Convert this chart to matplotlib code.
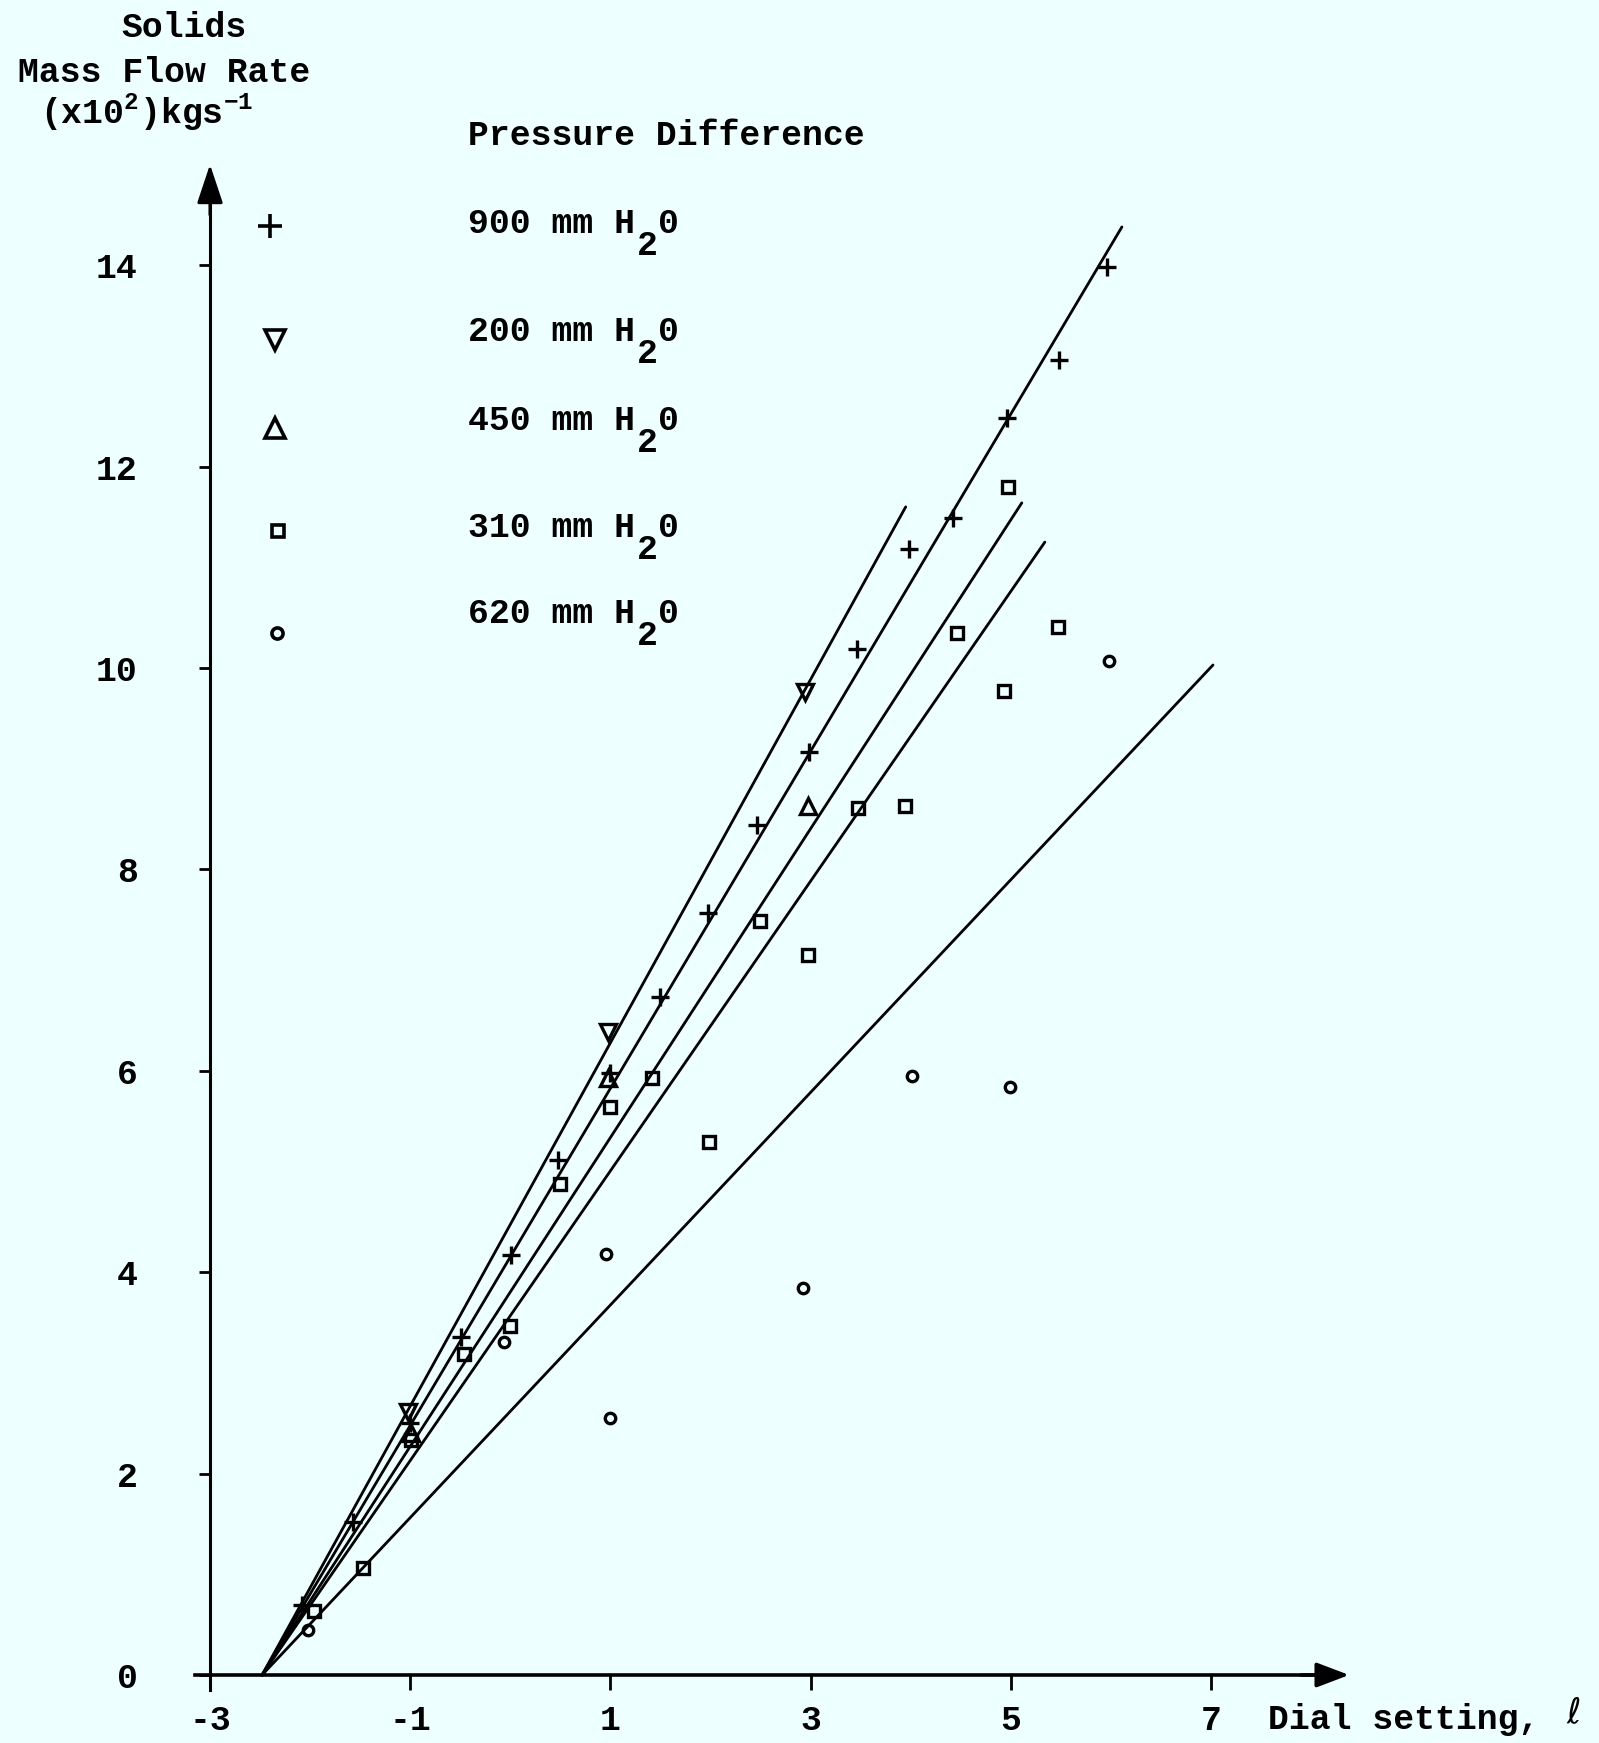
import numpy as np
import matplotlib
matplotlib.use('Agg')
import matplotlib.pyplot as plt

# 900 mm H2O  (+)
plus_x = [-2.08, -1.57, -1.0, -0.49, 0.01, 0.48, 1.0, 1.5, 1.98, 2.46, 2.98, 3.46, 3.98, 4.42, 4.96, 5.48, 5.96]
plus_y = [0.70, 1.52, 2.50, 3.36, 4.17, 5.11, 5.98, 6.73, 7.57, 8.44, 9.17, 10.19, 11.18, 11.49, 12.48, 13.06, 13.98]
# 200 mm H2O  (inverted triangle)
tdown_x = [-1.02, 0.98, 2.94]
tdown_y = [2.61, 6.39, 9.76]
# 450 mm H2O  (triangle)
tup_x = [-0.99, 0.98, 2.97]
tup_y = [2.40, 5.93, 8.63]
# 310 mm H2O  (square)
sq_x = [-1.96, -1.47, -0.99, -0.46, 0.0, 0.5, 1.0, 1.42, 1.99, 2.49, 2.97, 3.47, 3.94, 4.46, 4.93, 4.97, 5.47]
sq_y = [0.64, 1.06, 2.33, 3.19, 3.47, 4.88, 5.64, 5.93, 5.29, 7.49, 7.15, 8.61, 8.63, 10.35, 9.77, 11.80, 10.41]
# 620 mm H2O  (circle)
circ_x = [-2.02, -0.06, 0.96, 1.0, 2.92, 4.01, 4.99, 5.98]
circ_y = [0.45, 3.31, 4.18, 2.55, 3.84, 5.95, 5.84, 10.07]

# fitted straight lines, all starting at (-2.48, 0)
line_x0 = -2.48
line_end_x = [3.95, 6.11, 5.11, 5.34, 7.02]
line_end_y = [11.60, 14.38, 11.64, 11.25, 10.03]

xticks = [-3, -1, 1, 3, 5, 7]
yticks = [0, 2, 4, 6, 8, 10, 12, 14]

legend_labels = ['900', '200', '450', '310', '620']
legend_markers = ['+', 'v', '^', 's', 'o']

bg = '#EEFFFF'
font = ['Liberation Mono', 'DejaVu Sans Mono']
plt.rcParams['font.family'] = font
plt.rcParams['font.weight'] = 'bold'
plt.rcParams['axes.unicode_minus'] = False
plt.rcParams['mathtext.fontset'] = 'custom'
plt.rcParams['mathtext.rm'] = 'Liberation Mono:bold'
fs = 25

W, H = 1599, 1743
x0px, y0px = 210, 1675      # pixel position of (-3, 0)
sx, sy = 100.1, 100.7       # pixels per data unit
xlim = (-3.5, 9.0)
ylim = (-0.6, 15.5)

fig = plt.figure(figsize=(W / 100, H / 100), dpi=100, facecolor=bg)
left = (x0px + (xlim[0] + 3) * sx) / W
bottom = (H - (y0px - ylim[0] * sy)) / H
ax = fig.add_axes([left, bottom, (xlim[1] - xlim[0]) * sx / W, (ylim[1] - ylim[0]) * sy / H])
ax.set_facecolor(bg)
ax.set_xlim(*xlim)
ax.set_ylim(*ylim)

def px(x, y):
    return x / W, 1 - y / H

# axes
for s in ['top', 'right']:
    ax.spines[s].set_visible(False)
ax.spines['left'].set_position(('data', -3))
ax.spines['bottom'].set_position(('data', 0))
ax.spines['left'].set_bounds(-0.15, 14.7)
ax.spines['bottom'].set_bounds(-3.15, 8.2)
ax.spines['left'].set_linewidth(2.2)
ax.spines['bottom'].set_linewidth(2.6)
ax.annotate('', xy=(-3, 15.0), xytext=(-3, 14.5),
            arrowprops=dict(arrowstyle='-|>,head_length=1.2,head_width=0.4', mutation_scale=20,
                            color='k', lw=2.2, shrinkA=0, shrinkB=0))
ax.annotate('', xy=(8.38, 0), xytext=(7.9, 0),
            arrowprops=dict(arrowstyle='-|>,head_length=1.0,head_width=0.38', mutation_scale=20,
                            color='k', lw=2.6, shrinkA=0, shrinkB=0))

ax.set_xticks(xticks)
ax.set_xticklabels([str(t) for t in xticks])
ax.set_yticks(yticks)
ax.set_yticklabels([str(t) for t in yticks])
ax.tick_params(axis='x', direction='out', length=11, width=2, pad=10, labelsize=fs)
ax.tick_params(axis='y', direction='out', length=8, width=2, pad=44, labelsize=fs)

# fitted lines
for ex, ey in zip(line_end_x, line_end_y):
    ax.plot([line_x0, ex], [0, ey], color='k', lw=2.0, solid_capstyle='round')

# data points
mk = dict(linestyle='none', color='k', mfc='none', mew=2.4)
ax.plot(plus_x, plus_y, marker='+', ms=13, **mk)
ax.plot(tdown_x, tdown_y, marker='v', ms=11, **mk)
ax.plot(tup_x, tup_y, marker='^', ms=11, **mk)
ax.plot(sq_x, sq_y, marker='s', ms=8.5, **mk)
ax.plot(circ_x, circ_y, marker='o', ms=7.5, **mk)

# legend drawn by hand
leg_marker_px = [(270, 226), (275, 340), (275, 428), (278, 531), (277, 633)]
leg_ms = [17, 15, 15, 9, 8]
leg_base_px = [233, 341, 430, 537, 623]
cw = 0.6 * fs * 100 / 72
for m, (mx, my), ms, lab, by in zip(legend_markers, leg_marker_px, leg_ms, legend_labels, leg_base_px):
    fx, fy = px(mx, my)
    ax.plot([fx], [fy], marker=m, ms=ms, transform=fig.transFigure, clip_on=False,
            linestyle='none', color='k', mfc='none', mew=2.6)
    lx = 468
    fig.text(*px(lx, by), lab + ' mm H', fontsize=fs, va='baseline', ha='left')
    fig.text(*px(lx + 8 * cw + 2, by + 22), '2', fontsize=fs, va='baseline', ha='left')
    fig.text(*px(lx + 9 * cw + 2, by), '0', fontsize=fs, va='baseline', ha='left')

fig.text(*px(468, 145), 'Pressure Difference', fontsize=fs, va='baseline', ha='left')

# y axis title
fig.text(*px(184, 37), 'Solids', fontsize=fs, va='baseline', ha='center')
fig.text(*px(164, 82), 'Mass Flow Rate', fontsize=fs, va='baseline', ha='center')
fig.text(*px(40, 124), '(x10$^2$)kgs$^{-1}$', fontsize=fs, va='baseline', ha='left')

# x axis title
fig.text(*px(1268, 1729), 'Dial setting,', fontsize=fs, va='baseline', ha='left')
fig.text(*px(1566, 1722), '\u2113', fontsize=fs, va='baseline', ha='left',
         family=['DejaVu Sans', 'DejaVu Serif'], weight='normal')

fig.savefig('out.png', dpi=100, facecolor=bg)
